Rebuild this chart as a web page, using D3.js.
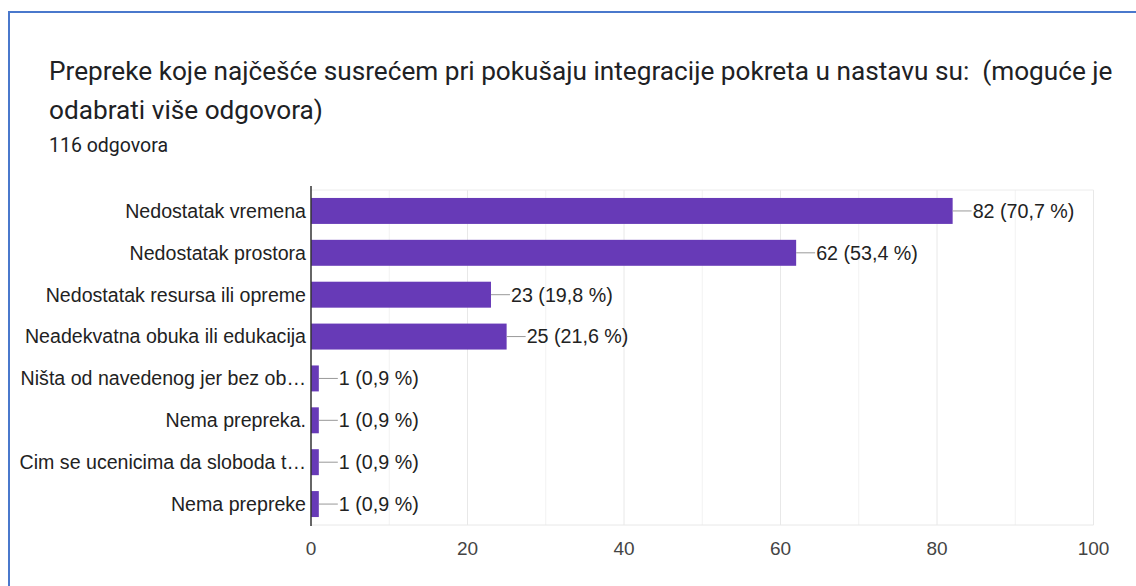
<!DOCTYPE html>
<html>
<head>
<meta charset="utf-8">
<script src="https://cdn.jsdelivr.net/npm/d3@7"></script>
<style>
  body { margin: 0; background: #fff; }
  svg { display: block; }
</style>
</head>
<body>
<svg width="1136" height="586"></svg>
<script>
const categories = [
    "Nedostatak vremena",
    "Nedostatak prostora",
    "Nedostatak resursa ili opreme",
    "Neadekvatna obuka ili edukacija",
    "Ništa od navedenog jer bez ob…",
    "Nema prepreka.",
    "Cim se ucenicima da sloboda t…",
    "Nema prepreke"
];
const counts = [82, 62, 23, 25, 1, 1, 1, 1];
const percents = ["70,7", "53,4", "19,8", "21,6", "0,9", "0,9", "0,9", "0,9"];
const majorTicks = [0, 20, 40, 60, 80, 100];
const minorTicks = [10, 30, 50, 70, 90];
const titleLines = [
    "Prepreke koje najčešće susrećem pri pokušaju integracije pokreta u nastavu su:  (moguće je",
    "odabrati više odgovora)"
];
const subtitle = "116 odgovora";

const svg = d3.select("svg");
const labelFont = "'Liberation Sans', Arial, sans-serif";

// card border (left + top only visible)
svg.append("path")
    .attr("d", "M9,586 V12 H1136")
    .attr("fill", "none")
    .attr("stroke", "#4a78cc")
    .attr("stroke-width", 2);

// title
svg.selectAll(".title")
    .data(titleLines)
    .join("text")
    .attr("class", "title")
    .attr("x", 49)
    .attr("y", (d, i) => 80 + i * 38.5)
    .attr("fill", "#202124")
    .style("font-family", "Roboto, sans-serif")
    .style("font-size", "26.2px")
    .style("white-space", "pre")
    .text(d => d);

svg.append("text")
    .attr("x", 49)
    .attr("y", 152)
    .attr("fill", "#202124")
    .style("font-family", "Roboto, sans-serif")
    .style("font-size", "19.5px")
    .text(subtitle);

const x = d3.scaleLinear().domain([0, 100]).range([311, 1093.5]);
const y = d3.scaleBand().domain(categories).range([190, 525]).paddingInner(0.38).paddingOuter(0.19);

// gridlines
svg.selectAll(".minor")
    .data(minorTicks)
    .join("line")
    .attr("x1", d => x(d)).attr("x2", d => x(d))
    .attr("y1", 190).attr("y2", 525)
    .attr("stroke", "#f2f2f2");

svg.selectAll(".major")
    .data(majorTicks.slice(1))
    .join("line")
    .attr("x1", d => x(d)).attr("x2", d => x(d))
    .attr("y1", 190).attr("y2", 525)
    .attr("stroke", "#e8e8e8");

svg.append("line")
    .attr("x1", x(0)).attr("x2", x(100))
    .attr("y1", 190).attr("y2", 190)
    .attr("stroke", "#ececec");
svg.append("line")
    .attr("x1", x(0)).attr("x2", x(100))
    .attr("y1", 525).attr("y2", 525)
    .attr("stroke", "#e8e8e8");

// bars
svg.selectAll(".bar")
    .data(counts)
    .join("rect")
    .attr("class", "bar")
    .attr("x", x(0))
    .attr("y", (d, i) => y(categories[i]))
    .attr("width", d => x(d) - x(0))
    .attr("height", y.bandwidth())
    .attr("fill", "#673ab7");

// leader lines + value labels
const cy = i => y(categories[i]) + y.bandwidth() / 2;
svg.selectAll(".leader")
    .data(counts)
    .join("line")
    .attr("x1", d => x(d)).attr("x2", d => x(d) + 19)
    .attr("y1", (d, i) => cy(i)).attr("y2", (d, i) => cy(i))
    .attr("stroke", "#999");

svg.selectAll(".val")
    .data(counts)
    .join("text")
    .attr("x", d => x(d) + 20)
    .attr("y", (d, i) => cy(i))
    .attr("dy", "0.35em")
    .attr("fill", "#222")
    .style("font-family", labelFont)
    .style("font-size", "19.7px")
    .text((d, i) => `${d} (${percents[i]} %)`);

// category labels
svg.selectAll(".cat")
    .data(categories)
    .join("text")
    .attr("x", 306)
    .attr("y", (d, i) => cy(i))
    .attr("dy", "0.35em")
    .attr("text-anchor", "end")
    .attr("fill", "#222")
    .style("font-family", labelFont)
    .style("font-size", "19.6px")
    .text(d => d);

// x tick labels
svg.selectAll(".tick")
    .data(majorTicks)
    .join("text")
    .attr("x", d => x(d))
    .attr("y", 555)
    .attr("text-anchor", "middle")
    .attr("fill", "#444")
    .style("font-family", labelFont)
    .style("font-size", "19px")
    .text(d => d);

// axis line
svg.append("line")
    .attr("x1", x(0)).attr("x2", x(0))
    .attr("y1", 186).attr("y2", 526)
    .attr("stroke", "#333")
    .attr("stroke-width", 1.5);
</script>
</body>
</html>
